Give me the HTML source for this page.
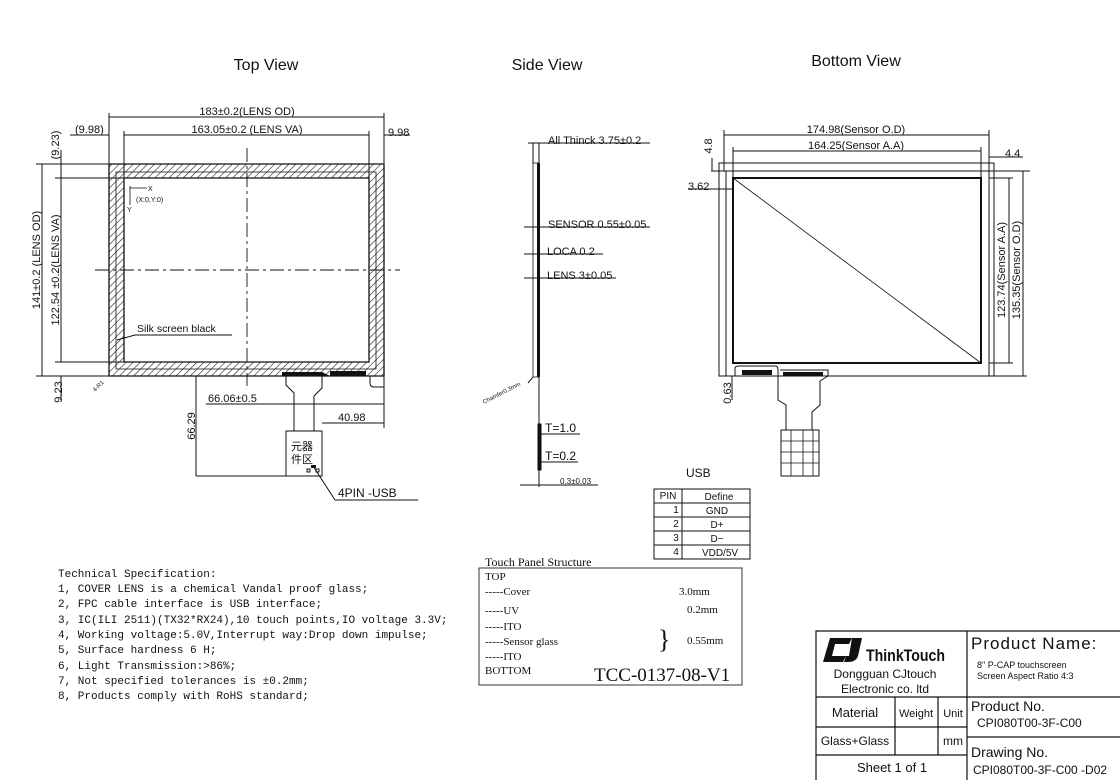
<!DOCTYPE html>
<html><head><meta charset="utf-8"><style>
html,body{margin:0;padding:0;background:#fff;}
svg{display:block;}
text{font-family:"Liberation Sans","Noto Sans CJK SC",sans-serif;fill:#111;}
.m text,text.m{font-family:"Liberation Mono","Noto Sans CJK SC",monospace;}
.s text,text.s{font-family:"Liberation Serif","Noto Serif CJK SC",serif;}
</style></head><body>
<svg width="1120" height="780" viewBox="0 0 1120 780" xmlns="http://www.w3.org/2000/svg">
<defs>
<pattern id="h" width="5" height="5" patternUnits="userSpaceOnUse" patternTransform="rotate(45)">
<line x1="0" y1="0" x2="0" y2="5" stroke="#222" stroke-width="1.2"/>
</pattern>
</defs>
<rect width="1120" height="780" fill="#fff"/>
<g font-size="16">
<text x="266" y="70" text-anchor="middle">Top View</text>
<text x="547" y="70" text-anchor="middle">Side View</text>
<text x="856" y="66" text-anchor="middle">Bottom View</text>
</g>

<!-- TOP VIEW -->
<g stroke="#111" fill="none" stroke-width="1">
<path d="M109,164 H384 V376 H109 Z M124,178 V362 H369 V178 Z" fill="url(#h)" fill-rule="evenodd" stroke-width="1.3"/>
<path d="M116,172 H376 V369 H116 Z" stroke-width="0.8"/>
<path d="M247,148 V386" stroke-dasharray="14,4,3,4" stroke-width="0.9"/>
<path d="M95,270 H400" stroke-dasharray="14,4,3,4" stroke-width="0.9"/>
<path d="M109,117 H384 M124,135 H369 M109,113 V164 M384,113 V164 M124,131 V178 M369,131 V178 M70,135 H109 M384,135 H410"/>
<path d="M42,164 V376 M61,178 V362 M36,164 H109 M55,178 H124 M55,362 H124 M36,376 H109 M61,150 V178 M61,376 V400"/>
<path d="M286,376 L286,385 L294,393 V431 M322,376 V388 L314,396 V431" stroke-width="1"/>
<path d="M370,376 V383 Q370,387 374,387 H384 V376"/>
<rect x="286" y="431" width="36" height="45"/>
<path d="M196,376 V476 M196,476 H286 M206,404 H384 M322,423 H384 M384,376 V428"/>
<path d="M313,466 L335,500 H418"/>
<path d="M135,335 H232 M135,335 L117,340"/>
<path d="M130,186 V205 M130,188 H147" stroke-width="0.8"/>
</g>
<path d="M282,372 h40 l8,4 h-48z M330,371 h36 v5 h-36z" fill="#111"/>
<rect x="307" y="469" width="3" height="3" fill="none" stroke="#111"/><rect x="316" y="469" width="3" height="3" fill="none" stroke="#111"/><rect x="311" y="465" width="5" height="3" fill="#111"/>
<g font-size="11">
<text x="247" y="115" text-anchor="middle">183±0.2(LENS OD)</text>
<text x="247" y="133" text-anchor="middle">163.05±0.2 (LENS VA)</text>
<text x="75" y="133">(9.98)</text>
<text x="388" y="136">9.98</text>
<text transform="translate(40,260) rotate(-90)" text-anchor="middle">141±0.2 (LENS OD)</text>
<text transform="translate(59,270) rotate(-90)" text-anchor="middle">122.54 ±0.2(LENS VA)</text>
<text transform="translate(59,145) rotate(-90)" text-anchor="middle">(9.23)</text>
<text transform="translate(62,392) rotate(-90)" text-anchor="middle">9.23</text>
<text x="208" y="402">66.06±0.5</text>
<text x="338" y="421">40.98</text>
<text transform="translate(195,426) rotate(-90)" text-anchor="middle">66.29</text>
<text x="137" y="332" font-size="10.5">Silk screen black</text>
<text x="338" y="497" font-size="12">4PIN -USB</text>
<text x="291" y="450" font-size="11" fill="#444">元器</text>
<text x="291" y="463" font-size="11" fill="#444">件区</text>
<text x="148" y="191" font-size="7">X</text>
<text x="136" y="202" font-size="7">(X:0,Y:0)</text>
<text x="127" y="212" font-size="7">Y</text>
<text transform="translate(95,392) rotate(-45)" font-size="6">4-R1</text>
</g>

<!-- SIDE VIEW -->
<g stroke="#111" fill="none">
<rect x="533" y="163" width="6" height="214" stroke-width="0.8"/>
<rect x="537" y="163" width="3" height="214" fill="#111" stroke="none"/>
<path d="M539,377 V487 M533,143 H650 M533,143 V163 M539,143 V163 M528,143 H533"/>
<path d="M524,227 H650 M524,254 H603 M524,278 H616 M520,485 H598 M533,377 L528,383"/>
<rect x="538" y="424" width="3" height="46" fill="#111"/>
<path d="M541,434 H580 M541,462 H578"/>
</g>
<g font-size="11">
<text x="548" y="144">All Thinck 3.75±0.2</text>
<text x="548" y="228">SENSOR 0.55±0.05</text>
<text x="547" y="255">LOCA  0.2</text>
<text x="547" y="279">LENS 3±0.05</text>
<text x="545" y="432" font-size="12">T=1.0</text>
<text x="545" y="460" font-size="12">T=0.2</text>
<text x="560" y="484" font-size="8">0.3±0.03</text>
<text transform="translate(484,404) rotate(-27)" font-size="6">Chamfer0.3mm</text>
</g>

<!-- BOTTOM VIEW -->
<g stroke="#111" fill="none">
<rect x="719" y="163" width="275" height="213" stroke-width="1"/>
<path d="M711,171 H1030 M989,163 V376 M726,171 V376"/>
<rect x="733" y="178" width="248" height="185" stroke-width="2"/>
<path d="M733,178 L981,363" stroke-width="0.8"/>
<path d="M724,135 H989 M724,130 V171 M989,130 V171 M733,151 H981 M733,147 V178 M981,147 V178"/>
<path d="M1009,178 V363 M989,178 H1013 M989,363 H1013 M1023,171 V376 M994,376 H1027 M989,157 H1023"/>
<path d="M712,158 V171 M688,189 H733 M732,376 V400"/>
<path d="M735,376 V368 Q735,366 740,366 H775 Q778,366 778,370 V378 M780,370 H828 V376 L820,381 V405 L812,412 V430 M778,378 V400 L786,405 V430"/>
<rect x="781" y="430" width="38" height="46"/>
<path d="M781,441 H819 M781,452 H819 M781,463 H819 M791,430 V476 M803,430 V476 M813,430 V476" stroke-width="0.8"/>
</g>
<path d="M742,370 h30 v5 h-30z M783,372 h40 v4 h-40z" fill="#111"/>
<g font-size="11">
<text x="856" y="133" text-anchor="middle">174.98(Sensor O.D)</text>
<text x="856" y="149" text-anchor="middle">164.25(Sensor A.A)</text>
<text x="1005" y="157">4.4</text>
<text x="688" y="190">3.62</text>
<text transform="translate(712,146) rotate(-90)" text-anchor="middle">4.8</text>
<text transform="translate(731,393) rotate(-90)" text-anchor="middle">0.63</text>
<text transform="translate(1005,270) rotate(-90)" text-anchor="middle">123.74(Sensor A.A)</text>
<text transform="translate(1020,270) rotate(-90)" text-anchor="middle">135.35(Sensor O.D)</text>
</g>

<!-- USB TABLE -->
<text x="686" y="477" font-size="12">USB</text>
<g stroke="#111" fill="none">
<rect x="654" y="489" width="96" height="70"/>
<path d="M654,503 H750 M654,517 H750 M654,531 H750 M654,545 H750 M682,489 V559"/>
</g>
<g font-size="10" text-anchor="middle">
<text x="668" y="499">PIN</text><text x="719" y="500">Define</text>
<text x="676" y="513">1</text><text x="717" y="514">GND</text>
<text x="676" y="527">2</text><text x="717" y="528">D+</text>
<text x="676" y="541">3</text><text x="717" y="542">D−</text>
<text x="676" y="555">4</text><text x="720" y="556">VDD/5V</text>
</g>

<!-- TOUCH PANEL STRUCTURE -->
<text x="485" y="566" class="s" font-size="12">Touch Panel Structure</text>
<rect x="479" y="568" width="263" height="117" fill="none" stroke="#333"/>
<g class="s" font-size="11">
<text x="485" y="580">TOP</text>
<text x="485" y="595">-----Cover</text>
<text x="485" y="614">-----UV</text>
<text x="485" y="630">-----ITO</text>
<text x="485" y="645">-----Sensor glass</text>
<text x="485" y="660">-----ITO</text>
<text x="485" y="674">BOTTOM</text>
<text x="679" y="595">3.0mm</text>
<text x="687" y="613">0.2mm</text>
<text x="687" y="644">0.55mm</text>
<text x="658" y="648" font-size="26">}</text>
<text x="594" y="681" font-size="19">TCC-0137-08-V1</text>
</g>

<!-- TECH SPEC -->
<g class="m" font-size="11">
<text x="58" y="577">Technical Specification:</text>
<text x="58" y="592">1,  COVER LENS is a chemical Vandal proof glass;</text>
<text x="58" y="607">2, FPC cable interface is USB interface;</text>
<text x="58" y="623">3, IC(ILI 2511)(TX32*RX24),10 touch points,IO voltage 3.3V;</text>
<text x="58" y="638">4, Working voltage:5.0V,Interrupt way:Drop down impulse;</text>
<text x="58" y="653">5, Surface hardness 6 H;</text>
<text x="58" y="669">6, Light Transmission:&gt;86%;</text>
<text x="58" y="684">7, Not specified tolerances is ±0.2mm;</text>
<text x="58" y="699">8, Products comply with RoHS standard;</text>
</g>

<!-- TITLE BLOCK -->
<g stroke="#111" fill="none" stroke-width="1.2">
<path d="M816,780 V631 H1120 M967,631 V780 M816,697 H1120 M816,727 H967 M816,755 H967 M895,697 V755 M938,697 V755 M967,737 H1120"/>
</g>
<path d="M830,638 h22 l-3,6 h-14 l-3,12 h14 l-3,6 h-20 z M852,638 h10 l-4,18 q-2,6 -10,6 h-4 l2,-6 h3 z" fill="#111"/>
<text x="866" y="661" font-size="17" font-weight="bold" textLength="79" lengthAdjust="spacingAndGlyphs">ThinkTouch</text>
<g font-size="12">
<text x="885" y="678" text-anchor="middle">Dongguan CJtouch</text>
<text x="885" y="693" text-anchor="middle">Electronic co. ltd</text>
<text x="971" y="649" font-size="17" letter-spacing="1">Product Name:</text>
<text x="977" y="668" font-size="9">8" P-CAP touchscreen</text>
<text x="977" y="679" font-size="9">Screen Aspect Ratio 4:3</text>
<text x="855" y="717" text-anchor="middle" font-size="13">Material</text>
<text x="916" y="717" text-anchor="middle" font-size="11">Weight</text>
<text x="953" y="717" text-anchor="middle" font-size="11">Unit</text>
<text x="855" y="745" text-anchor="middle">Glass+Glass</text>
<text x="953" y="745" text-anchor="middle">mm</text>
<text x="892" y="772" text-anchor="middle" font-size="13">Sheet 1 of 1</text>
<text x="971" y="711" font-size="14">Product No.</text>
<text x="977" y="727">CPI080T00-3F-C00</text>
<text x="971" y="757" font-size="14">Drawing No.</text>
<text x="973" y="774">CPI080T00-3F-C00 -D02</text>
</g>
</svg>
</body></html>
